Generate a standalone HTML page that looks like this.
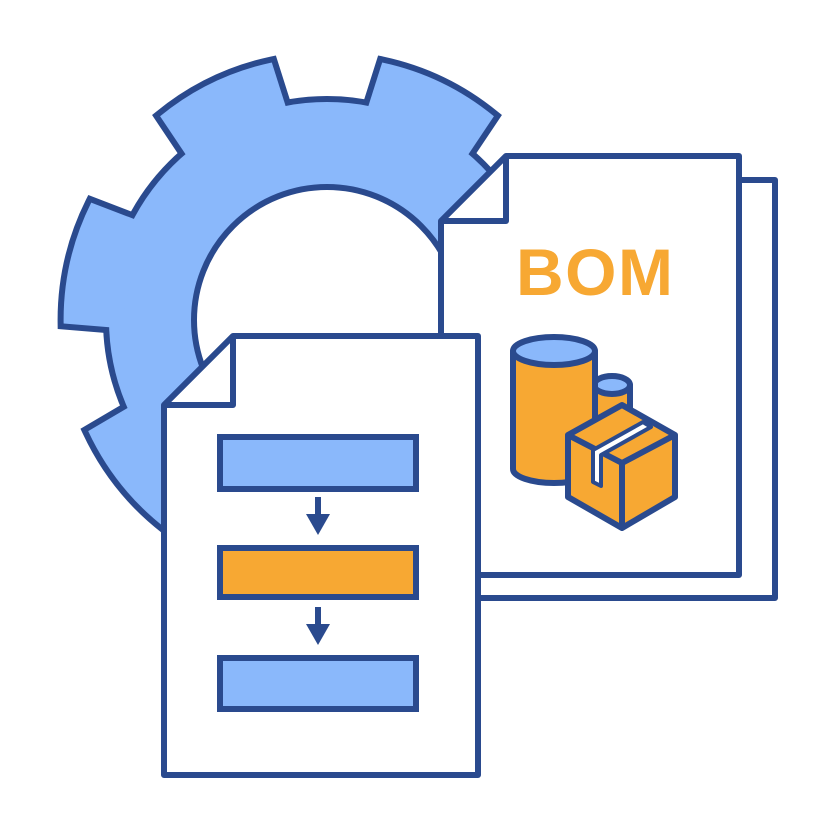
<!DOCTYPE html>
<html><head><meta charset="utf-8"><style>html,body{margin:0;padding:0;background:#fff}svg{display:block}</style></head>
<body>
<svg width="834" height="834" viewBox="0 0 834 834" xmlns="http://www.w3.org/2000/svg">
<defs>
<g id="tooth"><path d="M -54 -200 L -62 -256 A 263 263 0 0 1 62 -256 L 54 -200 Z"/></g>
</defs>
<g transform="translate(327,320)">
 <g fill="#2a4a8e" stroke="#2a4a8e" stroke-width="12" stroke-linejoin="miter">
  <circle r="218"/>
  <use href="#tooth" transform="rotate(25.71)"/>
  <use href="#tooth" transform="rotate(-25.71)"/>
  <use href="#tooth" transform="rotate(77.14)"/>
  <use href="#tooth" transform="rotate(-77.14)"/>
  <use href="#tooth" transform="rotate(128.57)"/>
  <use href="#tooth" transform="rotate(-128.57)"/>
  <use href="#tooth" transform="rotate(180)"/>
 </g>
 <g fill="#8ab8fb">
  <circle r="218"/>
  <use href="#tooth" transform="rotate(25.71)"/>
  <use href="#tooth" transform="rotate(-25.71)"/>
  <use href="#tooth" transform="rotate(77.14)"/>
  <use href="#tooth" transform="rotate(-77.14)"/>
  <use href="#tooth" transform="rotate(128.57)"/>
  <use href="#tooth" transform="rotate(-128.57)"/>
  <use href="#tooth" transform="rotate(180)"/>
 </g>
 <circle r="133" fill="#fff" stroke="#2a4a8e" stroke-width="6"/>
</g>

<g stroke="#2a4a8e" stroke-width="6" stroke-linejoin="round" fill="#fff">
 <path d="M 739 180 L 775 180 L 775 598 L 478 598" fill="none"/>
 <path d="M 441 221 L 506 156 L 739 156 L 739 575 L 441 575 Z"/>
 <path d="M 506 156 L 506 221 L 441 221" fill="none"/>
</g>
<text x="516" y="295" font-family="Liberation Sans, sans-serif" font-weight="bold" font-size="66" fill="#f7a833" letter-spacing="1.5">BOM</text>

<g stroke="#2a4a8e" stroke-width="6" stroke-linejoin="round">
 <path d="M 594 385 L 594 470 L 630 470 L 630 385 Z" fill="#f7a833"/>
 <ellipse cx="612" cy="385" rx="18" ry="9" fill="#8ab8fb"/>
 <path d="M 513 351 L 513 469 A 41 14 0 0 0 595 469 L 595 351 Z" fill="#f7a833"/>
 <ellipse cx="554" cy="351" rx="41" ry="14" fill="#8ab8fb"/>
 <path d="M 622 405 L 675 435 L 675 497 L 622 528 L 568 497 L 568 435 Z" fill="#f7a833"/>
 <path d="M 568 435 L 622 463 L 675 435 M 622 463 L 622 528" fill="none"/>
 <path d="M 643 422 L 651 427 L 601 455 L 601 486 L 593 482 L 593 450 Z" fill="#fff" stroke-width="4"/>
</g>

<g stroke="#2a4a8e" stroke-width="6" stroke-linejoin="round" fill="#fff">
 <path d="M 164 405 L 233 336 L 478 336 L 478 775 L 164 775 Z"/>
 <path d="M 233 336 L 233 405 L 164 405" fill="none"/>
</g>
<g stroke="#2a4a8e" stroke-width="6">
 <rect x="220" y="437" width="196" height="52" fill="#8ab8fb"/>
 <rect x="220" y="548" width="196" height="49" fill="#f7a833"/>
 <rect x="220" y="658" width="196" height="51" fill="#8ab8fb"/>
 <line x1="318" y1="497" x2="318" y2="520"/>
 <line x1="318" y1="607" x2="318" y2="630"/>
</g>
<g fill="#2a4a8e">
 <path d="M 306 514 L 330 514 L 318 535 Z"/>
 <path d="M 306 624 L 330 624 L 318 645 Z"/>
</g>
</svg>
</body></html>
